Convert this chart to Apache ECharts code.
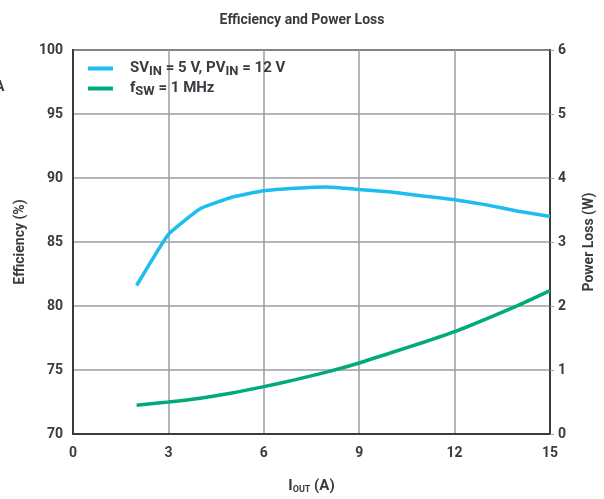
<!DOCTYPE html>
<html>
<head>
    <meta charset="utf-8" />
    <title>Efficiency and Power Loss</title>
    <script type="text/javascript" src="https://cdn.jsdelivr.net/npm/echarts@6/dist/echarts.min.js"></script>
    <style>
        html, body { margin: 0; padding: 0; background: #fff; }
        #chart { width: 604px; height: 499px; }
    </style>
</head>
<body>
    <div id="chart"></div>
    <script type="text/javascript">
        // load current (A)
        var iout = [2, 3, 4, 5, 6, 7, 8, 9, 10, 11, 12, 13, 14, 15];
        // efficiency (%) - left axis
        var efficiency = [81.6, 85.6, 87.6, 88.5, 89.0, 89.2, 89.3, 89.1, 88.9, 88.6, 88.3, 87.9, 87.4, 87.0];
        // power loss (W) - right axis
        var powerLoss = [0.45, 0.50, 0.56, 0.64, 0.74, 0.85, 0.97, 1.11, 1.27, 1.43, 1.60, 1.80, 2.01, 2.24];

        var font = "'Roboto', sans-serif";
        var dark = '#3a3a40';
        var gridGray = '#9c9ca3';

        var effData = [], lossData = [];
        for (var i = 0; i < iout.length; i++) {
            effData.push([iout[i], efficiency[i]]);
            lossData.push([iout[i], powerLoss[i]]);
        }

        var chart = echarts.init(document.getElementById('chart'));
        var option = {
            backgroundColor: '#fff',
            animation: false,
            textStyle: { fontFamily: font },
            title: {
                text: 'Efficiency and Power Loss',
                left: 'center',
                top: 8,
                textStyle: { fontFamily: font, fontSize: 14, fontWeight: 'bold', color: dark }
            },
            legend: {
                left: 83,
                top: 56,
                orient: 'vertical',
                itemWidth: 25,
                itemHeight: 4,
                itemGap: 3,
                icon: 'rect',
                textStyle: {
                    fontFamily: font, fontSize: 15, fontWeight: 'bold', color: dark,
                    padding: [0, 0, 0, 12],
                    rich: {
                        n: { fontFamily: font, fontSize: 15, fontWeight: 'bold', color: dark },
                        s: { fontFamily: font, fontSize: 13, fontWeight: 'bold', color: dark, verticalAlign: 'bottom', padding: [6, 0, 0, 0] }
                    }
                },
                formatter: function (name) {
                    if (name === 'eff') return '{n|SV}{s|IN}{n| = 5 V, PV}{s|IN}{n| = 12 V}';
                    return '{n|f}{s|SW}{n| = 1 MHz}';
                }
            },
            grid: {
                left: 73, right: 51, top: 50, bottom: 64,
                show: true, borderColor: dark, borderWidth: 2
            },
            xAxis: {
                type: 'value',
                min: 0, max: 15, interval: 3,
                name: '{i|I}{s|OUT}{i| (A)}',
                nameLocation: 'middle',
                nameGap: 44,
                nameTextStyle: {
                    rich: {
                        i: { fontFamily: font, fontSize: 15, fontWeight: 'bold', color: dark },
                        s: { fontFamily: font, fontSize: 9, fontWeight: 'bold', color: dark, verticalAlign: 'bottom', padding: [7, 0, 0, 0] }
                    }
                },
                axisLine: { show: true, lineStyle: { color: dark, width: 2 } },
                axisTick: { show: false },
                axisLabel: { fontFamily: font, fontSize: 14, fontWeight: 'bold', color: dark, margin: 12 },
                splitLine: { show: true, lineStyle: { color: gridGray, width: 1.5 } }
            },
            yAxis: [{
                type: 'value',
                min: 70, max: 100, interval: 5,
                name: 'Efficiency (%)',
                nameLocation: 'middle',
                nameGap: 46,
                nameTextStyle: { fontFamily: font, fontSize: 14, fontWeight: 'bold', color: dark },
                axisLine: { show: true, lineStyle: { color: dark, width: 2 } },
                axisTick: { show: false },
                axisLabel: { fontFamily: font, fontSize: 14, fontWeight: 'bold', color: dark, margin: 10 },
                splitLine: { show: true, lineStyle: { color: gridGray, width: 1.5 } }
            }, {
                type: 'value',
                min: 0, max: 6, interval: 1,
                name: 'Power Loss (W)',
                nameLocation: 'middle',
                nameGap: 32,
                nameRotate: 90,
                nameTextStyle: { fontFamily: font, fontSize: 14, fontWeight: 'bold', color: dark },
                axisLine: { show: true, lineStyle: { color: dark, width: 2 } },
                axisTick: { show: true, length: 4, inside: false, lineStyle: { color: gridGray } },
                axisLabel: { fontFamily: font, fontSize: 14, fontWeight: 'bold', color: dark, margin: 8 },
                splitLine: { show: false }
            }],
            graphic: [{
                type: 'text',
                left: -5,
                top: 80,
                style: { text: 'A', fontFamily: font, fontSize: 14, fontWeight: 'bold', fill: dark }
            }],
            series: [{
                name: 'eff',
                type: 'line',
                data: effData,
                yAxisIndex: 0,
                smooth: 0.12,
                showSymbol: false,
                color: '#1dbdef',
                lineStyle: { width: 3.5, color: '#1dbdef' }
            }, {
                name: 'loss',
                type: 'line',
                data: lossData,
                yAxisIndex: 1,
                smooth: 0.2,
                showSymbol: false,
                color: '#00aa7b',
                lineStyle: { width: 3.5, color: '#00aa7b' }
            }]
        };
        chart.setOption(option);
    </script>
</body>
</html>
